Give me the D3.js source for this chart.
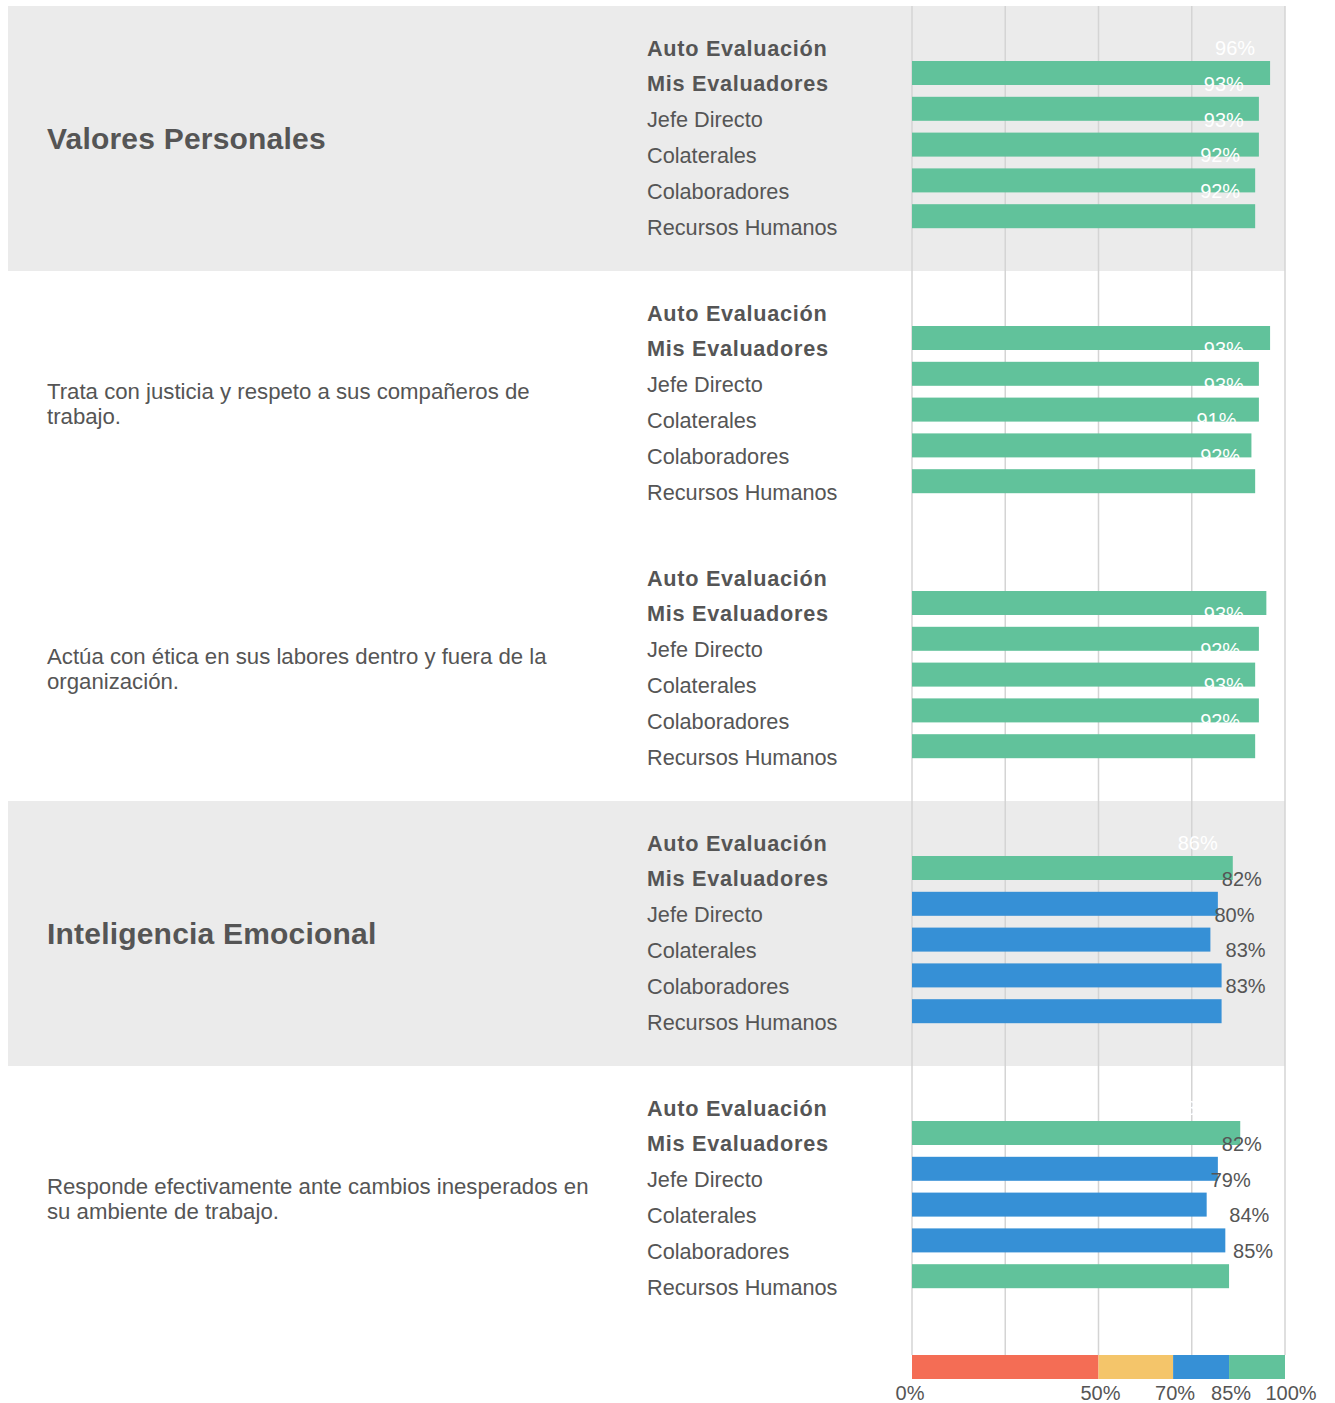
<!DOCTYPE html>
<html>
<head>
<meta charset="utf-8">
<script src="https://cdn.jsdelivr.net/npm/d3@7"></script>
<style>
  body { margin: 0; background: #fff; }
  text { font-family: "Liberation Sans", Arial, sans-serif; fill: #555; }
</style>
</head>
<body>
<div id="chart"></div>
<script>
// competencias / preguntas
const groups = [
  "Valores Personales",
  "Trata con justicia y respeto a sus compañeros de trabajo.",
  "Actúa con ética en sus labores dentro y fuera de la organización.",
  "Inteligencia Emocional",
  "Responde efectivamente ante cambios inesperados en su ambiente de trabajo."
];
const isHeader = [true, false, false, true, false];
const raters = ["Auto Evaluación", "Mis Evaluadores", "Jefe Directo", "Colaterales", "Colaboradores", "Recursos Humanos"];
const boldRaters = ["Auto Evaluación", "Mis Evaluadores"];
const values = [
  [96, 93, 93, 92, 92],
  [96, 93, 93, 91, 92],
  [95, 93, 92, 93, 92],
  [86, 82, 80, 83, 83],
  [88, 82, 79, 84, 85]
];
const legendStops = [0, 50, 70, 85, 100];
const legendColors = ["#f46d55", "#f4c56a", "#3690d6", "#61c29b"];

const W = 1335, H = 1403;
const svg = d3.select("#chart").append("svg").attr("width", W).attr("height", H);

const x = d3.scaleLinear().domain([0, 100]).range([912, 1285]);
const groupTop = d3.scaleLinear().domain([0, groups.length]).range([6, 1331]);
const rowY = d3.scaleLinear().domain([0, 1]).range([42, 77.8]); // centro de fila
const barY = d3.scaleLinear().domain([0, 1]).range([55, 90.8]); // borde superior de barra
const color = d3.scaleThreshold().domain(legendStops.slice(1, -1)).range(legendColors);

// fondos grises
svg.selectAll("rect.bg")
  .data(groups.map((g, i) => i).filter(i => isHeader[i]))
  .enter().append("rect")
  .attr("class", "bg")
  .attr("x", 8).attr("width", x(100) - 8)
  .attr("y", i => groupTop(i))
  .attr("height", i => groupTop(i + 1) - groupTop(i))
  .attr("fill", "#ebebeb");

// grid
svg.selectAll("line.grid")
  .data([0, 25, 50, 75, 100])
  .enter().append("line")
  .attr("x1", d => x(d)).attr("x2", d => x(d))
  .attr("y1", 6).attr("y2", 1355)
  .attr("stroke", "#d4d4d4").attr("stroke-width", 1.5);

groups.forEach((g, gi) => {
  const top = groupTop(gi);
  const mid = (groupTop(gi) + groupTop(gi + 1)) / 2;
  const grp = svg.append("g");

  if (isHeader[gi]) {
    grp.append("text")
      .attr("x", 47).attr("y", mid).attr("dy", "0.35em")
      .style("font-size", "30px").style("font-weight", "bold")
      .style("letter-spacing", "0.2px")
      .text(g);
  } else {
    // ajustar texto en lineas
    const words = g.split(" ");
    const lines = [];
    let line = [];
    const probe = grp.append("text").style("font-size", "22.2px");
    words.forEach(w => {
      line.push(w);
      probe.text(line.join(" "));
      if (probe.node().getComputedTextLength() > 550 && line.length > 1) {
        line.pop();
        lines.push(line.join(" "));
        line = [w];
      }
    });
    lines.push(line.join(" "));
    probe.remove();
    const lh = 25;
    grp.append("text")
      .attr("x", 47)
      .style("font-size", "22.2px")
      .selectAll("tspan").data(lines).enter().append("tspan")
      .attr("x", 47)
      .attr("y", (d, i) => mid + (i - (lines.length - 1) / 2) * lh)
      .attr("dy", "0.35em")
      .text(d => d);
  }

  // etiquetas de evaluadores
  grp.selectAll("text.rater").data(raters).enter().append("text")
    .attr("class", "rater")
    .attr("x", 647)
    .attr("y", (d, i) => top + rowY(i))
    .attr("dy", "0.35em")
    .style("font-size", "21.7px")
    .style("letter-spacing", d => boldRaters.includes(d) ? "0.7px" : "0px")
    .style("font-weight", d => boldRaters.includes(d) ? "bold" : "normal")
    .text(d => d);

  const vals = values[gi];

  // barras
  grp.selectAll("rect.bar").data(vals).enter().append("rect")
    .attr("class", "bar")
    .attr("x", x(0))
    .attr("y", (d, i) => top + barY(i))
    .attr("width", d => x(d) - x(0))
    .attr("height", 24)
    .attr("fill", d => color(d));

  // etiquetas de valor
  grp.selectAll("text.val").data(vals).enter().append("text")
    .attr("class", "val")
    .attr("x", d => d > 85 ? x(d) - 15 : x(d) + 4)
    .attr("y", (d, i) => top + rowY(i))
    .attr("dy", "0.35em")
    .attr("text-anchor", d => d > 85 ? "end" : "start")
    .style("font-size", "20px")
    .style("fill", d => d > 85 ? "#fff" : "#555")
    .text(d => d + "%");
});

// leyenda de rangos
const legend = svg.append("g");
legend.selectAll("rect").data(legendColors).enter().append("rect")
  .attr("x", (d, i) => x(legendStops[i]))
  .attr("width", (d, i) => x(legendStops[i + 1]) - x(legendStops[i]))
  .attr("y", 1355).attr("height", 24)
  .attr("fill", d => d);

legend.selectAll("text").data(legendStops).enter().append("text")
  .attr("x", d => x(d) + (d === 100 ? 6 : (d === 0 ? -2 : 2)))
  .attr("y", 1393).attr("dy", "0.35em")
  .attr("text-anchor", "middle")
  .style("font-size", "20px")
  .text(d => d + "%");
</script>
</body>
</html>
